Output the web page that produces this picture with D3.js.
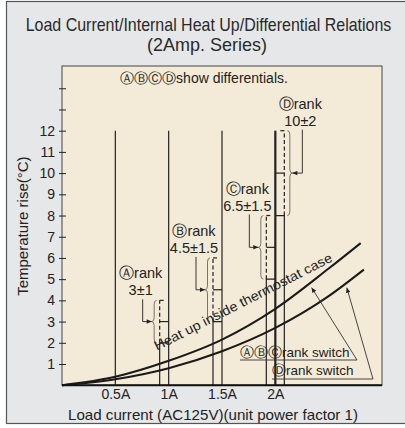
<!DOCTYPE html>
<html>
<head>
<meta charset="utf-8">
<script src="https://cdn.jsdelivr.net/npm/d3@7"></script>
<style>
  body { margin: 0; background: #fff; }
  svg { display: block; font-family: "Liberation Sans", Arial, sans-serif; }
</style>
</head>
<body>
<div id="chart"></div>
<script>
// ---- data ----
const xTickValues = [0.5, 1, 1.5, 2];
const xTickLabels = ["0.5A", "1A", "1.5A", "2A"];
const yTickValues = [1, 2, 3, 4, 5, 6, 7, 8, 9, 10, 11, 12, 13, 14];
const yTickLabels = ["1", "2", "3", "4", "5", "6", "7", "8", "9", "10", "11", "12", "", ""];

const guideCurrents = [0.5, 1, 1.5, 2]; // vertical guide lines, 0..12
const guideTop = 12;

const rankNames = ["Ⓐ", "Ⓑ", "Ⓒ", "Ⓓ"];
const rankCurrent = [1, 1.5, 2, 2];
const rankCenter = [3, 4.5, 6.5, 10];
const rankSpread = [1, 1.5, 1.5, 2];
const rankText = ["3±1", "4.5±1.5", "6.5±1.5", "10±2"];

// heat-up curves (A) vs (°C)
const abcCurrent = [0, 0.5, 1, 1.5, 2, 2.5, 2.8];
const abcRise = [0, 0.4, 1.15, 2.15, 3.6, 5.5, 6.7];
const dCurrent = [0, 0.5, 1, 1.5, 2, 2.5, 2.83];
const dRise = [0, 0.28, 0.8, 1.6, 2.7, 4.2, 5.45];

(function() {
    const W = 405, H = 428;
    const svg = d3.select("#chart").append("svg")
        .attr("width", W)
        .attr("height", H);

    // background + frame
    svg.append("rect").attr("width", W).attr("height", H).attr("fill", "#fff");
    svg.append("rect")
        .attr("x", 6.5).attr("y", 1.5).attr("width", 400).attr("height", 422)
        .attr("fill", "#e6e7e9").attr("stroke", "#555").attr("stroke-width", 1.2);

    const x = d3.scaleLinear([0, 3], [62, 382]);
    const y = d3.scaleLinear([0, 15.05], [385.2, 66]);

    // plot area
    svg.append("rect")
        .attr("x", x(0)).attr("y", y(15.05))
        .attr("width", x(3) - x(0)).attr("height", y(0) - y(15.05))
        .attr("fill", "#f3ebd8").attr("stroke", "#444").attr("stroke-width", 1);

    const defs = svg.append("defs");
    defs.append("marker")
        .attr("id", "arr")
        .attr("viewBox", "0 0 10 10")
        .attr("refX", 10).attr("refY", 5)
        .attr("markerWidth", 6).attr("markerHeight", 5)
        .attr("markerUnits", "userSpaceOnUse")
        .attr("orient", "auto")
        .append("path").attr("d", "M0,0.5L10,5L0,9.5Z").attr("fill", "#222");

    // text with circled letters in DejaVu
    function richText(sel, str, size) {
        const parts = str.match(/[\u24B6-\u24E9]+|[^\u24B6-\u24E9]+/g);
        parts.forEach(p => {
            const circ = /[\u24B6-\u24E9]/.test(p);
            sel.append("tspan")
                .attr("font-family", circ ? "DejaVu Sans, sans-serif" : null)
                .attr("font-size", size)
                .text(p);
        });
        return sel;
    }

    // condensed text: squeeze horizontally to a target width
    function squeezed(str, cx, by, size, width) {
        const g = svg.append("g").attr("transform", `translate(${cx},${by})`);
        const t = g.append("text")
            .attr("text-anchor", "middle")
            .attr("font-size", size).attr("fill", "#2a2a2a")
            .text(str);
        const w = t.node().getComputedTextLength();
        t.attr("transform", `scale(${width / w},1)`);
        return t;
    }

    // title
    squeezed("Load Current/Internal Heat Up/Differential Relations", 208.5, 31, 17.5, 366);
    squeezed("(2Amp. Series)", 207, 51, 18, 120);

    richText(svg.append("text")
        .attr("x", 204).attr("y", 83)
        .attr("text-anchor", "middle")
        .attr("fill", "#222"), rankNames.join("") + "show differentials.", 14);

    // y axis
    const yAxis = svg.append("g")
        .attr("transform", `translate(${x(0)},0)`)
        .call(d3.axisLeft(y).tickValues(yTickValues)
            .tickFormat((d, i) => yTickLabels[i])
            .tickSize(3).tickPadding(4));
    yAxis.select(".domain").remove();
    yAxis.selectAll("line").attr("x1", 4).attr("x2", -3).attr("stroke", "#222");
    yAxis.selectAll("text").attr("font-size", 14).attr("fill", "#222")
        .attr("font-family", "Liberation Sans, Arial, sans-serif");

    svg.append("text")
        .attr("transform", `translate(28,${y(7.5)}) rotate(-90)`)
        .attr("text-anchor", "middle")
        .attr("font-size", 15).attr("fill", "#222")
        .text("Temperature rise(°C)");

    // x axis
    const xAxis = svg.append("g")
        .attr("transform", `translate(0,${y(0)})`)
        .call(d3.axisBottom(x).tickValues(xTickValues)
            .tickFormat((d, i) => xTickLabels[i])
            .tickSize(0).tickPadding(4));
    xAxis.select(".domain").remove();
    xAxis.selectAll("text").attr("font-size", 14).attr("fill", "#222")
        .attr("font-family", "Liberation Sans, Arial, sans-serif");

    svg.append("text")
        .attr("x", 213).attr("y", 420)
        .attr("text-anchor", "middle")
        .attr("font-size", 15).attr("fill", "#222")
        .attr("textLength", 290).attr("lengthAdjust", "spacingAndGlyphs")
        .text("Load current (AC125V)(unit power factor 1)");

    // guide lines at rated currents
    svg.append("g")
        .selectAll("line")
        .data(guideCurrents)
        .enter()
        .append("line")
        .attr("x1", d => x(d)).attr("x2", d => x(d))
        .attr("y1", y(0)).attr("y2", y(guideTop))
        .attr("stroke", "#222")
        .attr("stroke-width", d => d === 2 ? 2.2 : 1.2);

    // rank differential markers
    const rg = svg.append("g").attr("fill", "none").attr("stroke", "#222");

    function brace(b, yt, yb, side) {
        const ym = (yt + yb) / 2, m = b + side * 2.5, t = b + side * 5;
        return `M${b},${yt}Q${m},${yt} ${m},${yt + 4}L${m},${ym - 4}Q${m},${ym} ${t},${ym}` +
               `Q${m},${ym} ${m},${ym + 4}L${m},${yb - 4}Q${m},${yb} ${b},${yb}`;
    }

    rankNames.forEach((name, i) => {
        const side = i === 3 ? 1 : -1;
        const xm = x(rankCurrent[i]);
        const xr = xm + side * 9;
        const lo = rankCenter[i] - rankSpread[i];
        const hi = rankCenter[i] + rankSpread[i];

        // switch line up to lower limit, then step back to the guide
        rg.append("path")
            .attr("d", `M${xr},${y(0)}V${y(lo)}H${xm}`)
            .attr("stroke-width", 1.2);
        // differential range (dashed)
        rg.append("line")
            .attr("x1", xr).attr("x2", xr).attr("y1", y(lo)).attr("y2", y(hi))
            .attr("stroke-width", 1.2).attr("stroke-dasharray", "4,2.5");
        rg.append("line")
            .attr("x1", xr).attr("x2", xr - side * 4).attr("y1", y(hi)).attr("y2", y(hi))
            .attr("stroke-width", 1.2);
        rg.append("line")
            .attr("x1", xr).attr("x2", xm).attr("y1", y(rankCenter[i])).attr("y2", y(rankCenter[i]))
            .attr("stroke-width", 1.2);

        // brace
        const b = xr + side * 3;
        rg.append("path")
            .attr("d", brace(b, y(hi), y(lo), side))
            .attr("stroke", "#555").attr("stroke-width", 0.8);

        // label
        const lx = xm + (side < 0 ? -28 : 25);
        const ly = y(hi) - 5;
        richText(svg.append("text")
            .attr("x", lx).attr("y", ly - 17)
            .attr("text-anchor", "middle")
            .attr("fill", "#222"), name + "rank", 14.5);
        svg.append("text")
            .attr("x", lx).attr("y", ly)
            .attr("text-anchor", "middle")
            .attr("font-size", 14.5).attr("fill", "#222")
            .text(rankText[i]);

        // pointer to brace
        rg.append("path")
            .attr("d", `M${lx + 2},${ly + 4}V${y(rankCenter[i])}H${b + side * 5}`)
            .attr("stroke-width", 0.9)
            .attr("marker-end", "url(#arr)");
    });

    // heat-up curves
    const line = d3.line().curve(d3.curveMonotoneX);
    svg.append("path")
        .attr("d", line(abcCurrent.map((c, i) => [x(c), y(abcRise[i])])))
        .attr("fill", "none").attr("stroke", "#1a1a1a").attr("stroke-width", 2);
    svg.append("path")
        .attr("d", line(dCurrent.map((c, i) => [x(c), y(dRise[i])])))
        .attr("fill", "none").attr("stroke", "#1a1a1a").attr("stroke-width", 2);

    svg.append("text")
        .attr("transform", `translate(${x(0.89)},${y(1.62)}) rotate(-27)`)
        .attr("font-size", 13.5).attr("fill", "#222")
        .attr("textLength", 198).attr("lengthAdjust", "spacingAndGlyphs")
        .text("Heat up inside thermostat case");

    // switch labels with pointers
    const sw = [
        { text: rankNames.slice(0, 3).join("") + "rank switch", tx: 240, ty: 357, ux: 357, uy: 360, px: 2.34, py: 4.6 },
        { text: rankNames[3] + "rank switch", tx: 272, ty: 375, ux: 373, uy: 379, px: 2.67, py: 4.6 }
    ];
    sw.forEach(s => {
        richText(svg.append("text")
            .attr("x", s.tx).attr("y", s.ty)
            .attr("fill", "#222"), s.text, 13.5);
        svg.append("path")
            .attr("d", `M${s.tx},${s.uy}H${s.ux}L${x(s.px)},${y(s.py)}`)
            .attr("fill", "none").attr("stroke", "#333").attr("stroke-width", 0.9)
            .attr("marker-end", "url(#arr)");
    });

    // bottom axis line
    svg.append("line")
        .attr("x1", x(0)).attr("x2", x(3))
        .attr("y1", y(0)).attr("y2", y(0))
        .attr("stroke", "#111").attr("stroke-width", 2);
})();
</script>
</body>
</html>
